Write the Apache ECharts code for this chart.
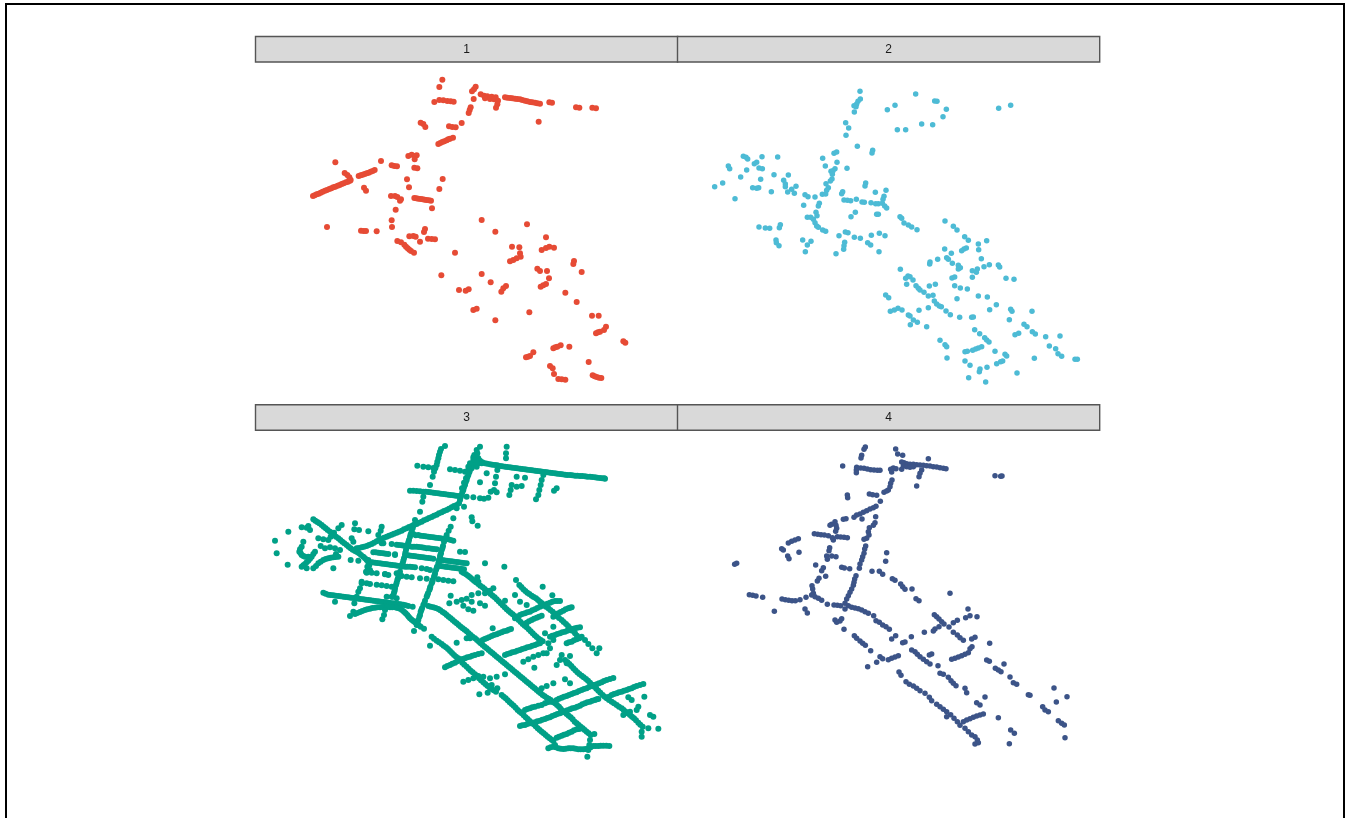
<!DOCTYPE html>
<html>
<head>
<meta charset="utf-8">
<title>Facets</title>
<script src="https://cdn.jsdelivr.net/npm/echarts@6/dist/echarts.min.js"></script>
<style>
  html, body { margin: 0; padding: 0; background: #fff; overflow: hidden; }
  #chart { width: 1345px; height: 818px; }
</style>
</head>
<body>
<div id="chart"></div>
<script>
const facetLabels = ['1', '2', '3', '4'];
const facetColors = ['#E64B35', '#4DBBD5', '#00A087', '#3C5488'];

// values, in each facet's own reading units
const points1 = [
  [427,29],[418,51],[527,50],[522,58],[516,64],[403,96],[418,90],[430,91],[442,93],[452,94],[461,95],[521,87],
  [542,73],[552,77],[562,79],[575,80],[587,82],[555,85],[570,87],[582,88],[594,92],[592,103],[588,113],
  [615,82],[622,83],[630,84],[637,85],[645,86],[652,87],[660,88],[667,90],[675,92],[682,94],[690,96],[697,97],[705,98],[712,100],[720,101],[748,97],[756,98],[828,112],[838,113],[877,113],[888,115],
  [512,112],[509,120],[506,129],[716,155],[485,159],[447,169],[457,171],[467,172],[362,158],[370,162],[376,171],
  [415,222],[421,219],[427,216],[433,214],[440,211],[445,208],[450,206],[459,203],[325,258],[335,254],[345,258],[350,256],[344,268],[243,273],[106,277],
  [275,286],[283,288],[291,289],[343,293],[352,295],
  [39,378],[44,376],[50,373],[56,371],[62,368],[68,365],[75,362],[81,360],[88,357],[94,355],[100,352],[106,350],[113,347],[119,345],[125,342],[131,340],[138,337],[144,335],[150,332],
  [134,309],[142,315],[148,322],[152,330],[176,318],[182,316],[188,314],[194,312],[200,310],[206,308],[212,305],[218,303],[224,300],[321,328],[428,327],
  [192,353],[198,362],[327,352],[418,357],[273,378],[285,378],[292,381],[300,392],[303,388],
  [343,384],[349,385],[355,386],[362,387],[368,388],[374,389],[380,390],[387,391],[393,392],[396,415],[287,419],[275,451],[276,471],[81,471],
  [183,482],[191,483],[198,483],[230,484],[375,477],[372,486],[328,499],[340,498],[347,500],[384,506],[395,507],[405,508],[360,515],
  [292,513],[303,517],[313,524],[318,530],[323,535],[328,539],[333,543],[342,548],[545,450],[586,485],[681,463],[738,502],[465,548],[636,530],[658,532],
  [725,540],[738,534],[748,530],[762,533],[660,550],[662,560],[650,565],[640,570],[630,574],[822,573],[820,582],
  [712,596],[720,603],[741,603],[845,606],[424,616],[545,612],[747,625],[572,637],[618,648],[610,655],[604,665],[722,650],[730,646],[738,642],
  [477,660],[497,662],[506,658],[796,668],[830,696],[520,720],[530,716],[688,727],[586,751],[876,737],[896,737],
  [918,770],[912,780],[900,785],[894,787],[888,790],[970,814],[976,818],[760,835],[766,832],[772,830],[782,826],[808,830],[700,847],[690,858],[684,860],[678,862],
  [866,876],[750,888],[758,895],[762,912],[775,927],[785,928],[796,929],[878,916],[884,919],[890,921],[897,923],[904,924],
];
const points2 = [
  [480,34],[481,57],[474,64],[470,72],[462,77],[468,80],[463,96],[647,42],[585,76],[562,89],[704,63],[711,64],[739,88],[729,110],
  [896,85],[932,76],[665,132],[698,134],[592,149],[617,149],[437,128],[446,144],[438,166],[472,199],[518,211],[516,219],[402,220],[410,216],
  [130,229],[138,232],[143,237],[186,230],[233,231],[368,235],[411,247],[376,258],[163,251],[170,247],[85,258],[89,266],[140,270],[177,264],[187,266],[441,265],
  [405,266],[399,272],[393,274],[397,283],[222,284],[265,285],[122,291],[182,298],[251,301],[396,297],[391,303],[256,312],[256,320],
  [68,309],[44,320],[378,311],[385,323],[380,331],[288,319],[158,323],[170,325],[176,323],[275,328],[283,340],[263,336],[214,335],
  [497,309],[495,318],[428,335],[425,341],[526,337],[558,331],[367,343],[377,342],[315,344],[324,350],[345,351],[105,356],
  [432,360],[442,361],[452,362],[469,358],[486,366],[493,367],[513,368],[527,371],[535,371],[552,349],[549,358],[547,370],[554,378],[560,384],
  [358,370],[355,378],[311,376],[466,397],[453,410],[530,403],[535,403],[348,397],[351,407],[322,412],[332,412],[340,418],[345,428],[350,438],[355,442],
  [600,410],[605,415],[612,429],[625,435],[635,441],[651,449],[177,441],[196,444],[209,445],[241,434],[238,443],[368,450],[377,454],
  [735,423],[760,439],[771,450],[436,456],[444,458],[463,472],[481,475],[417,467],[514,466],[538,460],[555,467],[794,470],[805,481],
  [308,480],[333,484],[322,495],[228,480],[229,488],[237,497],[434,487],[432,497],[431,508],[503,488],[512,495],[835,492],[860,482],[836,509],
  [734,507],[785,512],[792,507],[799,504],[316,515],[408,521],[537,515],[754,520],[740,533],[745,538],[713,538],[690,546],[689,552],[757,550],[844,536],
  [775,556],[781,563],[775,567],[868,554],[852,560],[895,555],[899,561],[601,568],[832,567],[817,572],[829,577],[624,588],[630,590],[639,600],[617,595],
  [756,594],[764,591],[817,592],[918,595],[942,598],[620,613],[648,617],[655,625],[660,630],[688,618],[706,613],[672,637],[764,617],[781,624],[802,627],
  [685,648],[699,646],[557,645],[566,653],[835,648],[862,651],[771,656],[703,663],[710,672],[718,678],[724,680],[889,674],[869,689],[685,683],
  [571,694],[583,690],[594,685],[606,690],[657,691],[932,688],[936,694],[996,694],[738,693],[751,704],[625,705],[630,708],[779,712],[815,712],[820,711],[928,719],
  [640,720],[652,727],[631,734],[680,740],[972,733],[981,740],[824,749],[997,755],[1006,762],[945,764],[956,760],[839,761],[854,773],[860,780],[867,786],
  [1037,770],[1080,768],[720,781],[735,794],[740,800],[845,800],[835,804],[827,807],[818,811],[795,815],[802,814],[1048,798],[1067,806],[885,814],
  [1074,821],[1085,829],[915,823],[920,828],[741,834],[1003,835],[1125,838],[1132,838],[795,843],[810,856],[908,843],[902,845],[890,851],
  [861,862],[840,867],[838,875],[951,879],[806,893],[857,906],
];
const points3 = [
  [660,66],[675,70],[690,73],[705,75],[720,78],[735,80],[750,82],[765,84],[780,86],[795,88],[810,90],[825,92],[840,94],[855,96],[870,98],[885,100],[900,102],[915,104],[930,105],[945,107],[960,108],[975,109],[990,110],[1005,112],[1020,114],[1033,115],
  [667,67],[682,71],[697,74],[712,76],[727,79],[742,81],[757,83],[772,85],[787,87],[802,89],[817,91],[832,93],[847,95],[862,97],[877,99],[892,101],[907,103],[922,105],[937,106],[952,107],[967,108],[982,110],[997,111],[1012,113],[1027,115],[1035,116],
  [660,20],[650,30],[643,45],[655,55],[640,60],[635,75],[630,90],[625,105],[620,120],[615,135],[610,150],[605,165],[600,180],[650,50],[660,62],[645,70],[650,80],[635,85],[625,90],
  [633,82],[628,97],[622,112],[617,127],[612,142],[607,157],[602,172],[597,190],[640,52],[630,70],[625,80],[652,40],[645,60],[655,70],[665,70],[618,115],[612,128],[606,145],
  [590,205],[580,235],[572,260],[560,285],[552,305],[545,330],[540,350],[535,370],[528,390],[522,410],[515,430],[508,450],[500,470],[490,495],[482,515],[478,530],[472,548],[470,555],
  [556,295],[549,318],[543,340],[537,360],[531,380],[525,400],[518,420],[511,440],[504,460],[495,482],[486,505],
  [566,272],[553,300],[547,325],[541,345],[537,365],[530,385],[524,405],[517,425],[510,445],[502,465],[493,490],[484,510],[480,525],[475,540],
  [555,18],[540,35],[535,55],[530,75],[522,95],[518,110],[510,135],[490,170],[487,185],[480,215],[465,240],[458,265],[450,290],[442,315],[435,345],[428,370],[420,395],[412,420],[405,445],[398,470],
  [455,275],[447,300],[438,330],[432,355],[424,380],[416,410],[408,435],[402,458],
  [461,255],[452,283],[445,307],[440,322],[436,338],[430,362],[426,375],[418,402],[414,415],[410,428],[404,452],[400,465],[543,27],[537,45],[532,65],[526,85],
  [472,77],[490,80],[505,82],[520,84],[570,88],[585,90],[600,92],[615,95],
  [450,152],[470,153],[490,155],[505,156],[520,158],[535,160],[550,162],[565,164],[580,166],[595,168],
  [460,152],[480,154],[497,155],[512,157],[527,159],[542,161],[557,163],[572,165],[587,167],
  [590,195],[575,202],[560,210],[545,217],[530,224],[515,231],[500,238],[485,245],[470,252],[455,258],[440,265],[425,272],[410,278],[395,284],[380,290],[365,297],[350,304],[335,312],[320,318],[305,322],[290,325],
  [582,198],[567,206],[552,213],[537,220],[522,227],[507,234],[492,241],[477,248],[462,255],[447,261],[432,268],[417,275],[402,281],[387,287],[372,293],[357,300],[342,308],[327,315],[312,320],[297,324],
  [160,238],[172,246],[185,255],[197,265],[210,275],[222,285],[235,295],[247,305],[260,315],[272,325],[285,333],[297,340],[310,350],[320,360],[328,375],[330,390],
  [166,242],[178,250],[191,260],[203,270],[216,280],[228,290],[241,300],[253,310],[266,320],[278,329],[291,336],[303,345],[315,355],[325,367],
  [245,255],[235,265],[222,278],[212,290],[125,262],[140,263],[150,270],[145,258],[85,275],[175,295],[190,298],[205,300],
  [130,305],[125,320],[118,335],[125,345],[135,350],[145,350],[182,318],[195,325],[210,322],[225,325],[240,330],[120,328],[122,340],[130,348],
  [165,335],[155,350],[145,362],[135,372],[125,380],[140,385],[160,385],[175,370],[190,360],[205,355],[220,352],[235,350],[228,342],
  [168,378],[182,365],[197,357],[212,353],[227,351],[150,356],[160,342],[140,367],[130,376],
  [45,302],[50,340],[83,374],[220,385],[285,250],[283,268],[297,270],[325,274],[275,295],[280,305],[365,260],[362,272],[355,285],
  [460,282],[475,285],[490,288],[505,290],[520,292],[535,294],[550,296],[565,298],[580,302],
  [467,286],[482,287],[497,289],[512,291],[527,293],[542,295],[557,297],[572,300],
  [370,310],[395,312],[410,314],[425,316],[440,318],[455,320],[470,320],[485,322],[500,325],[515,326],[530,328],
  [417,315],[432,317],[447,319],[462,320],[477,321],[492,323],[507,325],[522,327],
  [340,337],[355,338],[370,340],[385,342],[405,343],[445,346],[460,348],[475,350],[490,352],[505,354],[520,356],
  [347,337],[362,339],[377,341],[452,347],[467,349],[482,351],[497,353],[512,355],
  [330,367],[345,368],[360,370],[375,372],[390,374],[405,376],[420,378],[435,380],[450,380],[465,382],[485,385],[500,387],[510,390],
  [337,367],[352,369],[367,371],[382,373],[397,375],[412,377],[427,379],[442,380],[457,381],
  [545,360],[560,362],[575,364],[590,366],[605,368],[620,370],[600,335],[615,336],[540,378],[555,380],[570,382],[585,384],[600,386],[612,388],
  [552,361],[567,363],[582,365],[597,367],[612,369],[547,379],[562,381],[577,383],[592,385],[605,387],
  [320,398],[335,398],[350,400],[375,402],[385,405],[425,408],[440,410],[455,412],[480,415],[500,416],[535,418],[550,420],[565,422],[580,424],
  [320,430],[330,432],[305,430],[350,434],[365,436],[380,438],[395,440],[325,360],[322,380],[318,395],[305,425],[300,445],
  [190,458],[205,464],[220,466],[235,468],[250,470],[265,472],[280,474],[295,476],[310,478],[325,480],[340,482],[355,484],[370,486],[385,488],[400,490],[415,492],[430,494],[445,498],[458,500],
  [197,461],[212,465],[227,467],[242,469],[257,471],[272,473],[287,475],[302,477],[317,479],[332,481],[347,483],[362,485],[377,487],[392,489],[407,491],[422,493],[437,496],
  [295,455],[290,470],[225,485],[270,528],[280,515],[283,490],[285,522],[300,516],[315,510],[330,506],[345,503],[360,502],[375,500],[390,502],[405,502],[420,506],[432,515],[442,525],[450,535],[460,543],[470,550],[482,560],[492,566],[462,573],
  [292,519],[307,513],[322,508],[337,504],[352,502],[367,501],[382,501],[397,502],[412,504],[426,510],[437,520],[446,530],[455,539],[465,547],[476,555],
  [367,538],[372,525],[375,510],[380,470],[395,470],[410,475],
  [605,395],[618,403],[630,412],[642,422],[655,432],[668,442],[680,452],[692,462],[704,472],[716,484],[728,496],[740,508],[752,518],[764,528],[776,540],[788,552],[800,562],[812,574],[824,586],[836,596],[848,604],
  [611,399],[624,407],[636,417],[648,427],[661,437],[674,447],[686,457],[698,467],[710,478],[722,490],[734,502],[746,513],[758,523],[770,534],[782,546],[794,557],[806,568],[818,580],[830,591],[842,600],
  [700,445],[690,452],[675,460],[652,412],[655,425],
  [505,498],[520,502],[535,507],[548,516],[560,525],[572,535],[584,545],[596,555],[608,565],[620,574],[632,585],[645,595],[657,605],[668,615],[680,625],[692,635],[704,645],[716,655],[728,665],[740,675],[752,685],[764,695],[776,705],[788,715],[800,725],[812,735],[824,745],[836,755],[848,765],[860,773],[872,780],[885,790],[897,800],[908,812],[920,822],[932,832],[944,845],[956,855],[968,865],[980,875],[992,885],[1003,882],
  [512,500],[527,504],[541,511],[554,520],[566,530],[578,540],[590,550],[602,560],[614,569],[626,580],[638,590],[651,600],[662,610],[674,620],[686,630],[698,640],[710,650],[722,660],[734,670],[746,680],[758,690],[770,700],[782,710],[794,720],[806,730],[818,740],[830,750],[842,760],[854,769],[866,776],[878,785],[891,795],[902,806],[914,817],[926,827],[938,838],[950,850],[962,860],[974,870],[986,880],
  [990,900],[988,915],[985,930],[982,950],
  [515,590],[530,602],[545,612],[558,622],[570,633],[582,645],[595,655],[607,668],[620,680],[632,692],[645,703],[657,715],[670,727],[682,737],[695,747],[708,755],
  [522,596],[537,607],[551,617],[564,627],[576,639],[588,650],[601,661],[613,674],[626,686],[638,697],[651,709],[663,721],[676,732],[688,742],[701,751],
  [725,765],[737,775],[749,787],[761,797],[773,810],[785,820],[797,832],[809,843],[821,853],[833,865],[845,875],[857,885],[869,895],[880,903],[885,915],
  [731,770],[743,781],[755,792],[767,803],[779,815],[791,826],[803,837],[815,848],[827,859],[839,870],[851,880],[863,890],[875,899],
  [865,925],[880,920],[895,925],[910,927],[925,925],[940,925],[955,928],[970,928],[985,925],[1000,918],[1015,918],[1030,917],[1048,918],
  [872,922],[887,922],[902,926],[917,926],[932,925],[947,926],[962,928],[977,927],[992,922],[1007,918],[1022,917],[1039,917],
  [668,600],[680,595],[695,588],[710,583],[725,577],[740,572],[753,567],[674,597],[687,592],[702,585],[717,580],[732,574],[746,569],
  [735,645],[750,640],[765,635],[780,630],[795,625],[810,620],[825,615],[840,610],[742,642],[757,637],[772,632],[787,627],[802,622],[817,617],[832,612],
  [555,682],[570,675],[585,668],[600,660],[615,655],[630,650],[645,645],[665,640],[562,678],[577,671],[592,664],[607,657],[622,652],[637,647],[655,642],
  [790,665],[805,658],[820,650],[835,645],[850,640],[860,640],
  [765,535],[780,525],[795,520],[810,515],[825,508],[840,500],[855,495],[870,488],[885,483],[900,483],[772,530],[787,522],[802,517],[817,511],[832,504],[847,497],[862,491],[877,485],[892,483],
  [880,530],[895,520],[910,512],[925,505],[935,502],[800,548],[815,540],[830,533],[845,527],[887,525],[902,516],[917,508],[930,503],[807,544],[822,536],[837,530],
  [870,590],[885,585],[900,580],[915,575],[930,570],[945,565],[960,562],[920,610],[935,605],[950,598],[965,590],[877,587],[892,582],[907,577],[922,572],[937,567],[952,563],[927,607],[942,601],[957,594],
  [610,725],[625,720],[640,715],[655,708],[670,710],[690,715],[710,710],[735,703],[845,745],[860,738],[880,730],
  [890,780],[905,773],[920,768],[935,762],[950,757],[965,750],[980,745],[995,738],[1010,733],[1025,727],[1040,720],[1060,714],
  [897,776],[912,770],[927,765],[942,759],[957,753],[972,747],[987,741],[1002,735],[1017,730],[1032,723],[1050,717],
  [795,810],[810,805],[825,800],[845,795],[855,790],[870,785],[885,785],[802,807],[817,802],[835,797],[862,787],[877,785],
  [780,858],[795,855],[810,850],[825,847],[840,842],[855,837],[870,832],[885,825],[900,820],[915,815],[930,808],[945,803],[960,797],[975,790],[990,785],[1005,780],[1015,777],
  [787,856],[802,852],[817,848],[832,844],[847,839],[862,834],[877,828],[892,822],[907,817],[922,811],[937,805],[952,800],[967,793],[982,787],[997,782],[1010,778],
  [890,893],[905,887],[920,882],[935,875],[950,868],[960,866],[897,890],[912,884],[927,878],[942,871],[955,867],
  [1040,775],[1055,765],[1070,760],[1085,755],[1100,750],[1115,745],[1130,738],[1150,732],[1047,770],[1062,762],[1077,757],[1092,752],[1107,747],[1122,741],[1140,735],
  [768,420],[778,435],[790,448],[802,458],[815,467],[828,475],[840,485],[852,495],[865,505],[878,515],[890,528],[905,540],[918,552],[930,565],[945,580],[958,595],[975,600],[985,612],[997,625],[1010,640],[1018,625],
  [784,441],[796,453],[808,462],[821,471],[834,480],[846,490],[858,500],[871,510],[884,521],[897,534],[911,546],[924,558],[937,572],[951,587],
  [905,645],[915,660],[928,672],[940,685],[952,697],[965,707],[978,717],[990,728],[1003,740],[1015,752],[1028,765],[1055,785],[1070,795],[1085,805],[1097,815],[1110,825],[1122,835],[1135,848],[1148,860],[1165,865],[1195,866],[1145,875],[1145,890],
  [922,666],[934,678],[946,691],[958,702],[971,712],[984,722],[996,734],[1009,746],[1021,758],[1034,770],[1047,780],[1062,790],[1077,800],[1091,810],[1103,820],[1116,830],[1128,841],[1141,854],
  [890,675],[900,660],[930,648],[920,670],[1105,772],[1115,780],[1153,770],[1135,800],[1130,810],[1110,815],[1090,825],[1170,825],[1180,830],[915,718],[930,730],
  [712,90],[708,110],[705,130],[702,150],[692,155],[710,157],[740,20],[738,40],[738,55],[770,110],[795,113],[755,135],[752,150],[748,165],[770,140],[785,138],
  [850,105],[845,120],[842,135],[838,150],[835,165],[828,178],[890,145],[882,152],[620,170],[640,172],[660,175],[672,176],[685,173],[680,100],[660,127],[635,232],[637,244],[653,257],[612,200],
  [675,370],[733,380],[572,467],[635,465],[655,460],[590,485],[605,480],[620,476],[635,485],[660,490],[675,497],[610,497],[625,508],[640,512],[568,490],[735,482],[765,465],[780,485],[800,495],[848,440],[877,466],[698,565],[855,580],[880,560],[865,610],[880,600],[870,625],[823,683],[658,763],[683,758],[590,608],[630,595],[510,617],[620,595],[272,360],[295,362],[375,403],[405,345],[365,310],[410,400],[695,735],[712,745],
];
const points4 = [
  [436,21],[432,28],[425,46],[423,54],[527,27],[533,42],[548,46],[625,56],[368,78],[410,82],[409,90],[409,98],
  [422,84],[432,85],[442,87],[452,89],[462,90],[472,91],[480,91],[512,88],[520,84],[528,86],[515,96],[516,120],[512,130],[510,140],[505,150],
  [545,66],[552,68],[560,71],[570,73],[580,73],[590,74],[600,75],[610,76],[620,77],[630,78],[640,80],[650,81],[660,83],[670,85],[678,86],
  [550,78],[560,80],[570,82],[545,88],[580,80],[605,90],[600,100],[597,110],[590,138],[825,107],[842,109],[846,108],[382,165],[383,173],
  [448,162],[458,164],[470,166],[492,157],[500,153],[481,184],[468,199],[460,203],[450,207],[440,212],[430,217],[420,222],[410,225],[402,232],
  [378,236],[370,238],[426,237],[467,230],[465,248],[460,256],[448,263],[345,245],[335,253],[330,256],[348,256],[350,265],[347,274],
  [445,275],[447,285],[440,295],[432,298],[283,281],[293,283],[303,284],[313,285],[325,287],[337,293],[340,300],[352,290],[362,291],[372,292],[382,293],
  [235,296],[225,300],[215,304],[205,309],[437,318],[434,327],[185,326],[190,330],[329,323],[327,332],[237,337],[500,338],
  [432,340],[428,350],[425,360],[420,372],[418,385],[203,348],[207,356],[320,348],[335,348],[348,350],[322,358],[497,364],[50,370],[44,373],[287,375],
  [365,382],[373,384],[389,386],[310,383],[305,392],[456,394],[478,394],[488,403],[297,415],[292,423],[317,409],
  [408,407],[404,417],[402,427],[400,436],[395,447],[390,457],[385,467],[380,477],[375,490],[517,416],[525,421],[542,432],[548,440],[555,448],[576,447],
  [276,437],[278,447],[280,460],[690,460],[88,464],[98,466],[108,468],[128,472],[258,472],[275,465],[285,470],[295,475],[305,481],
  [186,477],[196,479],[206,481],[216,482],[226,482],[240,479],[588,476],[597,482],[322,493],[342,495],[352,496],[362,497],[375,507],
  [385,497],[395,502],[405,504],[415,506],[425,510],[435,515],[445,520],[744,507],[255,507],[262,519],[163,514],[461,527],[643,524],[650,530],[657,537],
  [750,527],[771,530],[737,533],[365,536],[360,543],[345,540],[350,547],[468,542],[478,547],[488,555],[498,560],[665,545],[672,552],[700,548],[712,541],
  [657,560],[645,567],[687,561],[372,568],[508,568],[613,577],[640,573],[700,577],[712,585],[720,593],[730,601],[527,587],[515,597],[574,590],[403,587],[410,595],
  [420,603],[428,610],[436,616],[765,592],[755,597],[548,608],[555,606],[809,610],[756,620],[750,626],[575,630],[585,635],[592,643],[600,650],[610,658],[620,665],[630,672],
  [452,632],[635,642],[628,645],[745,638],[735,643],[725,647],[715,651],[705,655],[695,658],[535,647],[525,651],[515,655],[505,659],[480,650],[488,656],[470,667],[443,680],
  [800,660],[808,664],[852,672],[654,677],[826,685],[835,690],[843,695],[537,696],[543,706],[660,700],[670,703],[870,711],[685,712],[693,722],[700,730],[708,737],
  [880,728],[890,733],[558,725],[568,733],[580,738],[590,745],[600,752],[615,760],[735,745],[740,758],[1002,744],[925,764],[930,766],[628,772],[635,782],[795,771],[1041,770],
  [770,788],[780,795],[1009,786],[650,793],[660,800],[670,808],[680,815],[968,800],[975,810],[985,815],[790,822],[780,825],[770,828],[760,832],[750,836],[740,840],[730,845],
  [680,830],[692,824],[702,835],[712,845],[720,856],[835,833],[1015,842],[1025,850],[1033,855],[735,865],[745,875],[755,885],[765,890],[772,900],[775,908],[765,912],
  [872,870],[883,880],[1035,893],[868,911],
];
const facetPoints = [points1, points2, points3, points4];

// reading-unit limits of each facet: [xMin, xMax, yMin, yMax]
const facetLimits = [
  [-135, 1134, -24, 960],
  [-66, 1203, -54, 930],
  [-15, 1254, -27, 957],
  [-126, 1143, -27, 957],
];
const facetDotSizes = [6, 5.5, 6, 5.5];

const panelBoxes = [
  { left: 255, top: 62 },
  { left: 678, top: 62 },
  { left: 255, top: 431 },
  { left: 678, top: 431 },
];
const panelWidth = 423;
const panelHeight = 328;

const stripBoxes = [
  { x: 255.5, y: 36.5 },
  { x: 677.5, y: 36.5 },
  { x: 255.5, y: 404.7 },
  { x: 677.5, y: 404.7 },
];
const stripWidth = 422.2;
const stripHeight = 25.5;

const chart = echarts.init(document.getElementById('chart'), null, { renderer: 'canvas' });

function stripGraphics() {
  const items = [{
    type: 'rect',
    shape: { x: 6, y: 4, width: 1338, height: 900 },
    style: { fill: 'none', stroke: '#000', lineWidth: 2 },
    silent: true,
  }];
  stripBoxes.forEach((box, i) => {
    items.push({
      type: 'rect',
      shape: { x: box.x, y: box.y, width: stripWidth, height: stripHeight },
      style: { fill: '#D9D9D9', stroke: '#555', lineWidth: 1.4 },
      silent: true,
      z: 5,
    });
    items.push({
      type: 'text',
      x: box.x + stripWidth / 2,
      y: box.y + stripHeight / 2,
      style: {
        text: facetLabels[i],
        fill: '#1a1a1a',
        font: '12px "Liberation Sans", Arial, sans-serif',
        textAlign: 'center',
        textVerticalAlign: 'middle',
      },
      silent: true,
      z: 6,
    });
  });
  return items;
}

chart.setOption({
  animation: false,
  backgroundColor: '#fff',
  graphic: stripGraphics(),
  grid: panelBoxes.map((box) => ({ left: box.left, top: box.top, width: panelWidth, height: panelHeight })),
  xAxis: facetLimits.map((lim, i) => ({ type: 'value', gridIndex: i, min: lim[0], max: lim[1], show: false })),
  yAxis: facetLimits.map((lim, i) => ({ type: 'value', gridIndex: i, min: lim[2], max: lim[3], inverse: true, show: false })),
  series: facetPoints.map((rows, i) => ({
    name: facetLabels[i],
    type: 'scatter',
    xAxisIndex: i,
    yAxisIndex: i,
    data: rows,
    symbolSize: facetDotSizes[i],
    itemStyle: { color: facetColors[i], opacity: 1 },
    silent: true,
  })),
});
</script>
</body>
</html>
